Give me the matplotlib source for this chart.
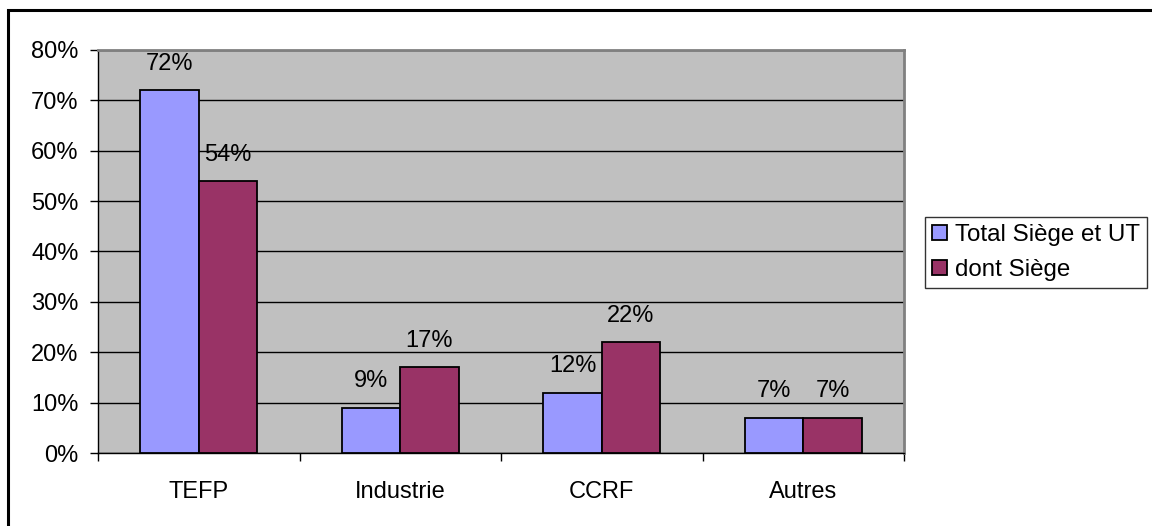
import matplotlib
matplotlib.use("Agg")
import matplotlib.pyplot as plt
from matplotlib.patches import Patch, Rectangle
from matplotlib.ticker import MultipleLocator, FixedLocator, FuncFormatter

categories = ["TEFP", "Industrie", "CCRF", "Autres"]
total = [72, 9, 12, 7]
siege = [54, 17, 22, 7]
series_names = ["Total Siège et UT", "dont Siège"]
colors = ["#9999FF", "#993366"]

plt.rcParams['font.family'] = ['Liberation Sans', 'DejaVu Sans']
W, H = 1152, 526
fig = plt.figure(figsize=(W / 100, H / 100), dpi=100)
fig.patch.set_facecolor("white")

# outer border
fig.patches.append(Rectangle((8 / W, -0.1), 1.2, 1 - 10 / H + 0.1, transform=fig.transFigure,
                             fill=False, edgecolor="black", linewidth=2.2))

ax = fig.add_axes([98 / W, (H - 453) / H, (904 - 98) / W, (453 - 50) / H])
ax.set_facecolor("#C0C0C0")
ax.set_axisbelow(True)

FS = 17
bw = 0.29
xs = range(len(categories))
b1 = ax.bar([x - bw / 2 for x in xs], total, width=bw, color=colors[0], edgecolor="black", linewidth=1.3, zorder=3)
b2 = ax.bar([x + bw / 2 for x in xs], siege, width=bw, color=colors[1], edgecolor="black", linewidth=1.3, zorder=3)

for bars, vals in ((b1, total), (b2, siege)):
    for b, v in zip(bars, vals):
        ax.annotate(f"{v}%", (b.get_x() + b.get_width() / 2, v), xytext=(0, 11),
                    textcoords="offset points", ha="center", va="bottom", fontsize=FS)

ax.set_ylim(0, 80)
ax.set_xlim(-0.5, len(categories) - 0.5)
ax.yaxis.set_major_locator(MultipleLocator(10))
ax.yaxis.set_major_formatter(FuncFormatter(lambda v, p: f"{int(v)}%"))
ax.grid(axis="y", color="black", linewidth=1.0, zorder=1)
ax.xaxis.set_major_locator(FixedLocator([x - 0.5 for x in range(len(categories) + 1)]))
ax.xaxis.set_major_formatter(FuncFormatter(lambda v, p: ""))
ax.set_xticks(list(xs), minor=True)
ax.set_xticklabels(categories, minor=True)
ax.tick_params(axis="x", which="minor", length=0, pad=20, labelsize=FS)
ax.tick_params(axis="x", which="major", length=6, width=1, direction="out")
ax.tick_params(axis="y", length=6, width=1, direction="out", labelsize=FS, pad=8)

for s in ("top", "right"):
    ax.spines[s].set_color("#808080")
    ax.spines[s].set_linewidth(2)
for s in ("left", "bottom"):
    ax.spines[s].set_color("black")
    ax.spines[s].set_linewidth(1)

handles = [Patch(facecolor=c, edgecolor="black", linewidth=1.3) for c in colors]
leg = fig.legend(handles, series_names, loc="center left", bbox_to_anchor=(925 / W, (H - 252.5) / H),
                 fontsize=17.4, frameon=True, fancybox=False, edgecolor="black",
                 handlelength=0.6, handleheight=0.6, handletextpad=0.35, borderpad=0.3,
                 labelspacing=0.55, borderaxespad=0)
leg.get_frame().set_linewidth(1.0)

fig.savefig("out.png", dpi=100, facecolor="white")
